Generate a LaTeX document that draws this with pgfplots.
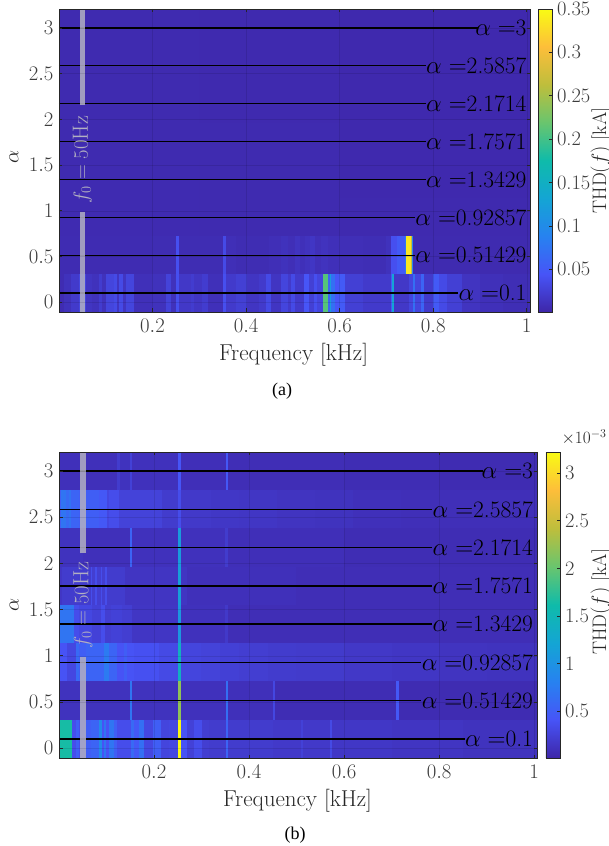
\documentclass[border=0pt]{standalone}
\usepackage{fontspec}
\usepackage{pgfplots}
\usepackage{pgfplotstable}
\pgfplotsset{compat=1.18}
\newfontfamily\capfont{Liberation Serif}
\pgfplotsset{colormap={parulax}{rgb255=(62,38,168) rgb255=(71,84,247) rgb255=(39,130,240) rgb255=(20,165,212) rgb255=(15,187,170) rgb255=(105,197,110) rgb255=(190,190,60) rgb255=(253,190,58) rgb255=(249,251,20)}}
\definecolor{axdark}{gray}{0.15}
\definecolor{bandgray}{rgb}{0.70,0.69,0.76}
\newcommand{\cellh}{37.88}
\pgfdeclareplotmark{cell}{%
  \pgfpathrectangle{\pgfpoint{-0.5*\cw pt}{-0.5*\cellh pt}}{\pgfpoint{\cw pt}{\cellh pt}}%
  \pgfusepathqfillstroke}
\pgfplotstableread{
a b y v
0 .30 3 .005
.30 .60 3 .0045
.60 1.01 3 .004
0 .30 2.5857 .005
.30 .60 2.5857 .0045
.60 1.01 2.5857 .004
0 .30 2.1714 .005
.30 .60 2.1714 .0045
.60 1.01 2.1714 .004
0 .30 1.7571 .005
.30 .60 1.7571 .005
.60 1.01 1.7571 .004
0 .30 1.3429 .0055
.30 .60 1.3429 .005
.60 1.01 1.3429 .004
0 .30 .92857 .0055
.30 .60 .92857 .005
.60 1.01 .92857 .0045
0 .20 .51429 .006
.20 .25 .51429 .007
.25 .256 .51429 .04
.256 .35 .51429 .007
.35 .357 .51429 .035
.357 .378 .51429 .009
.378 .45 .51429 .007
.45 .475 .51429 .009
.475 .49 .51429 .012
.49 .505 .51429 .009
.505 .516 .51429 .014
.516 .527 .51429 .010
.527 .537 .51429 .013
.537 .548 .51429 .016
.548 .56 .51429 .010
.56 .575 .51429 .013
.575 .60 .51429 .010
.60 .65 .51429 .009
.65 .70 .51429 .008
.70 .709 .51429 .012
.709 .723 .51429 .04
.723 .741 .51429 .05
.741 .743 .51429 .08
.743 .752 .51429 .335
.752 .755 .51429 .27
.755 .758 .51429 .09
.758 1.01 .51429 .005
0 .011 .1 .006
.011 .025 .1 .012
.025 .043 .1 .02
.043 .057 .1 .03
.057 .071 .1 .015
.071 .086 .1 .012
.086 .093 .1 .022
.093 .100 .1 .012
.100 .118 .1 .03
.118 .125 .1 .035
.125 .129 .1 .015
.129 .136 .1 .035
.136 .143 .1 .015
.143 .161 .1 .03
.161 .200 .1 .01
.200 .228 .1 .012
.228 .239 .1 .028
.239 .25 .1 .012
.25 .256 .1 .04
.256 .282 .1 .018
.282 .289 .1 .022
.289 .307 .1 .016
.307 .318 .1 .022
.318 .35 .1 .01
.35 .357 .1 .04
.357 .378 .1 .02
.378 .403 .1 .025
.403 .428 .1 .015
.428 .443 .1 .02
.443 .453 .1 .035
.453 .475 .1 .015
.475 .489 .1 .03
.489 .496 .1 .02
.496 .505 .1 .035
.505 .523 .1 .02
.523 .534 .1 .045
.534 .545 .1 .025
.545 .552 .1 .04
.552 .565 .1 .03
.565 .575 .1 .21
.575 .579 .1 .06
.579 .582 .1 .12
.582 .591 .1 .07
.591 .598 .1 .045
.598 .612 .1 .05
.612 .65 .1 .025
.65 .709 .1 .02
.709 .712 .1 .05
.712 .717 .1 .13
.717 .748 .1 .018
.748 .757 .1 .03
.757 .762 .1 .07
.762 .774 .1 .03
.774 .780 .1 .06
.780 .800 .1 .02
.800 .812 .1 .05
.812 .830 .1 .035
.830 .862 .1 .025
.862 .90 .1 .014
.90 .95 .1 .01
.95 1.01 .1 .008
}\topdata
\pgfplotstableread{
a b y v
0 .123 3 .10
.123 .128 3 .2
.128 .149 3 .12
.149 .154 3 .25
.154 .25 3 .11
.25 .256 3 .42
.256 .351 3 .09
.351 .356 3 .45
.356 .6 3 .08
.6 .8 3 .07
.8 1.01 3 .06
0 .0035 2.5857 .5
.0035 .014 2.5857 .7
.014 .021 2.5857 .6
.021 .025 2.5857 .68
.025 .042 2.5857 .55
.042 .084 2.5857 .5
.084 .102 2.5857 .45
.102 .105 2.5857 .3
.105 .126 2.5857 .35
.126 .218 2.5857 .26
.218 .25 2.5857 .2
.25 .256 2.5857 .35
.256 .32 2.5857 .18
.32 .38 2.5857 .16
.38 .46 2.5857 .15
.46 .54 2.5857 .13
.54 .62 2.5857 .12
.62 .72 2.5857 .1
.72 1.01 2.5857 .09
0 .05 2.1714 .12
.05 .149 2.1714 .10
.149 .154 2.1714 .55
.154 .25 2.1714 .11
.25 .256 2.1714 1.1
.256 .35 2.1714 .11
.35 .356 2.1714 .2
.356 .6 2.1714 .09
.6 1.01 2.1714 .07
0 .007 1.7571 .15
.007 .067 1.7571 .2
.067 .07 1.7571 .35
.07 .077 1.7571 .22
.077 .081 1.7571 .35
.081 .088 1.7571 .22
.088 .091 1.7571 .35
.091 .098 1.7571 .22
.098 .102 1.7571 .35
.102 .14 1.7571 .2
.14 .25 1.7571 .14
.25 .256 1.7571 1.15
.256 .27 1.7571 .14
.27 .5 1.7571 .1
.5 1.01 1.7571 .08
0 .032 1.3429 .7
.032 .042 1.3429 .35
.042 .056 1.3429 .3
.056 .07 1.3429 .3
.07 .088 1.3429 .25
.088 .098 1.3429 .35
.098 .109 1.3429 .22
.109 .133 1.3429 .25
.133 .154 1.3429 .22
.154 .25 1.3429 .15
.25 .256 1.3429 1.05
.256 .35 1.3429 .11
.35 .356 1.3429 .18
.356 1.01 1.3429 .08
0 .018 .92857 .4
.018 .035 .92857 .3
.035 .042 .92857 .6
.042 .056 .92857 .5
.056 .063 .92857 .55
.063 .095 .92857 .55
.095 .105 .92857 .75
.105 .123 .92857 .55
.123 .137 .92857 .4
.137 .144 .92857 .5
.144 .158 .92857 .4
.158 .21 .92857 .38
.21 .25 .92857 .32
.25 .256 .92857 1.4
.256 .3 .92857 .28
.3 .34 .92857 .26
.34 .38 .92857 .24
.38 .44 .92857 .22
.44 .5 .92857 .2
.5 .6 .92857 .19
.6 .7 .92857 .17
.7 .8 .92857 .15
.8 .9 .92857 .13
.9 1.01 .92857 .12
0 .149 .51429 .12
.149 .154 .51429 .7
.154 .25 .51429 .12
.25 .256 .51429 2.2
.256 .351 .51429 .11
.351 .356 .51429 .65
.356 .45 .51429 .1
.45 .455 .51429 .3
.455 .71 .51429 .07
.71 .716 .51429 .45
.716 1.01 .51429 .06
0 .027 .1 1.65
.027 .035 .1 .35
.035 .042 .1 .5
.042 .056 .1 .35
.056 .067 .1 .5
.067 .084 .1 .55
.084 .091 .1 .9
.091 .095 .1 .4
.095 .1 .1 .7
.1 .105 .1 .4
.105 .116 .1 .7
.116 .123 .1 .5
.123 .151 .1 .35
.151 .158 .1 .6
.158 .168 .1 .45
.168 .179 .1 .65
.179 .197 .1 .3
.197 .214 .1 .5
.214 .232 .1 .28
.232 .25 .1 .3
.25 .256 .1 3.2
.256 .27 .1 .4
.27 .284 .1 .25
.284 .302 .1 .35
.302 .316 .1 .22
.316 .351 .1 .2
.351 .356 .1 .55
.356 .45 .1 .2
.45 .51 .1 .18
.51 .514 .1 .25
.514 .57 .1 .18
.57 .575 .1 .32
.575 .7 .1 .16
.7 .85 .1 .14
.85 1.01 .1 .12
}\botdata
\tikzset{
  alab/.style={anchor=east,inner sep=0pt,text=black,font=\fontsize{23.5}{25}\selectfont},
}
\pgfplotsset{
  myaxis/.style={
    font=\fontsize{20.5}{23}\selectfont,
    scale only axis,
    axis on top,
    clip mode=individual,
    clip marker paths=true,
    anchor=south west,
    tick align=inside,
    major tick length=3.5pt,
    axis line style={axdark,line width=0.6pt},
    every tick/.style={axdark,line width=0.6pt},
    tick label style={text=axdark!90!white},
    xticklabel style={yshift=-4pt},
    yticklabel style={xshift=-2pt},
    label style={text=axdark,font=\fontsize{23}{26}\selectfont},
    grid=major,
    grid style={black,opacity=0.1,line width=0.3pt},
    xtick={0.2,0.4,0.6,0.8,1},
    ytick={0,0.5,1,1.5,2,2.5,3},
    ymin=-0.107, ymax=3.207,
    xlabel={Frequency [kHz]},
    ylabel={\fontsize{21}{23}\selectfont$\alpha$},
    colormap name=parulax,
    colorbar,
  },
  cbar/.style={
    anchor=south west, width=14pt,
    ytick pos=right, yticklabel pos=right, tick align=inside,
    xtick=\empty,
    major tick length=3pt,
    axis line style={axdark,line width=0.6pt},
    every tick/.style={axdark,line width=0.6pt},
    yticklabel style={text=axdark!90!white,font=\fontsize{20.5}{23}\selectfont,xshift=1.5pt},
    ylabel={THD$(f)$ [kA]},
  },
  cellmap/.style={
    scatter, only marks, mark=cell,
    scatter src=explicit,
    scatter/use mapped color={draw=mapped color,fill=mapped color,line width=0.2pt},
  },
  bandline/.style={bandgray,opacity=0.85,line width=5.7pt,line cap=butt,forget plot},
  aline/.style={black,line width=1.3pt,forget plot},
}
\begin{document}
\begin{tikzpicture}[x=1pt,y=1pt]
\useasboundingbox (0,0) rectangle (609,846);
% ---------- panel (a)
\begin{axis}[myaxis,
  at={(59pt,534pt)}, width=471pt, height=303pt,
  xmin=0, xmax=1.007,
  point meta min=0.0007, point meta max=0.35,
  xlabel style={at={(axis description cs:0.498,-0.141)},anchor=center},
  ylabel style={at={(axis description cs:-0.0955,0.51)},anchor=center},
  colorbar style={cbar,
    at={(1.017,0)}, height=303pt,
    ytick={0.05,0.1,0.15,0.2,0.25,0.3,0.35},
    yticklabels={0.05,0.1,0.15,0.2,0.25,0.3,0.35},
    ylabel style={text=axdark,font=\fontsize{19.5}{22}\selectfont,at={(axis description cs:4.5,0.5)},anchor=center},
  },
]
\renewcommand{\cellh}{37.88}
\addplot[cellmap,visualization depends on={(\thisrow{b}-\thisrow{a})*467.7 \as \cw}]
  table[x expr={(\thisrow{a}+\thisrow{b})/2},y=y,meta=v]{\topdata};
\addplot[aline] coordinates {(0,3) (0.895,3)};
\addplot[aline] coordinates {(0,2.5857) (0.784,2.5857)};
\addplot[aline] coordinates {(0,2.1714) (0.784,2.1714)};
\addplot[aline] coordinates {(0,1.7571) (0.784,1.7571)};
\addplot[aline] coordinates {(0,1.3429) (0.784,1.3429)};
\addplot[aline] coordinates {(0,0.92857) (0.762,0.92857)};
\addplot[aline] coordinates {(0,0.51429) (0.762,0.51429)};
\addplot[aline] coordinates {(0,0.1) (0.852,0.1)};
\addplot[bandline] coordinates {(0.05,-0.107) (0.05,0.986)};
\addplot[bandline] coordinates {(0.05,2.156) (0.05,3.207)};
\node[rotate=90,text=bandgray,inner sep=0pt,font=\fontsize{22}{24}\selectfont] at (axis cs:0.05,1.56) {$f_0=50$Hz};
\node[alab] at (axis cs:1.0,3) {$\alpha =$3};
\node[alab] at (axis cs:1.0,2.5857) {$\alpha =$2.5857};
\node[alab] at (axis cs:1.0,2.1714) {$\alpha =$2.1714};
\node[alab] at (axis cs:1.0,1.7571) {$\alpha =$1.7571};
\node[alab] at (axis cs:1.0,1.3429) {$\alpha =$1.3429};
\node[alab] at (axis cs:1.0,0.92857) {$\alpha =$0.92857};
\node[alab] at (axis cs:1.0,0.51429) {$\alpha =$0.51429};
\node[alab] at (axis cs:1.0,0.1) {$\alpha =$0.1};
\end{axis}
% ---------- panel (b)
\begin{axis}[myaxis,
  at={(59pt,88pt)}, width=478pt, height=306pt,
  xmin=0, xmax=1.006,
  point meta min=0.01, point meta max=3.22,
  xlabel style={at={(axis description cs:0.499,-0.14)},anchor=center},
  ylabel style={at={(axis description cs:-0.094,0.5)},anchor=center},
  colorbar style={cbar,
    at={(1.0188,0)}, height=306pt,
    ytick={0.5,1,1.5,2,2.5,3},
    yticklabels={0.5,1,1.5,2,2.5,3},
    ylabel style={text=axdark,font=\fontsize{19.5}{22}\selectfont,at={(axis description cs:3.93,0.51)},anchor=center},
  },
]
\renewcommand{\cellh}{38.25}
\addplot[cellmap,visualization depends on={(\thisrow{b}-\thisrow{a})*475.2 \as \cw}]
  table[x expr={(\thisrow{a}+\thisrow{b})/2},y=y,meta=v]{\botdata};
\addplot[aline] coordinates {(0,3) (0.892,3)};
\addplot[aline] coordinates {(0,2.5857) (0.784,2.5857)};
\addplot[aline] coordinates {(0,2.1714) (0.784,2.1714)};
\addplot[aline] coordinates {(0,1.7571) (0.784,1.7571)};
\addplot[aline] coordinates {(0,1.3429) (0.784,1.3429)};
\addplot[aline] coordinates {(0,0.92857) (0.762,0.92857)};
\addplot[aline] coordinates {(0,0.51429) (0.762,0.51429)};
\addplot[aline] coordinates {(0,0.1) (0.855,0.1)};
\addplot[bandline] coordinates {(0.05,-0.107) (0.05,0.982)};
\addplot[bandline] coordinates {(0.05,2.11) (0.05,3.207)};
\node[rotate=90,text=bandgray,inner sep=0pt,font=\fontsize{22}{24}\selectfont] at (axis cs:0.05,1.55) {$f_0=50$Hz};
\node[alab] at (axis cs:0.998,3) {$\alpha =$3};
\node[alab] at (axis cs:0.998,2.5857) {$\alpha =$2.5857};
\node[alab] at (axis cs:0.998,2.1714) {$\alpha =$2.1714};
\node[alab] at (axis cs:0.998,1.7571) {$\alpha =$1.7571};
\node[alab] at (axis cs:0.998,1.3429) {$\alpha =$1.3429};
\node[alab] at (axis cs:0.998,0.92857) {$\alpha =$0.92857};
\node[alab] at (axis cs:0.998,0.51429) {$\alpha =$0.51429};
\node[alab] at (axis cs:0.998,0.1) {$\alpha =$0.1};
\end{axis}
\node[text=axdark,font=\fontsize{17.5}{20}\selectfont,inner sep=0pt] at (584,409) {$\times10^{-3}$};
\node[font=\capfont\fontsize{18}{20}\selectfont,inner sep=0pt] at (282,455) {(a)};
\node[font=\capfont\fontsize{18}{20}\selectfont,inner sep=0pt] at (295,11) {(b)};
\end{tikzpicture}
\end{document}
